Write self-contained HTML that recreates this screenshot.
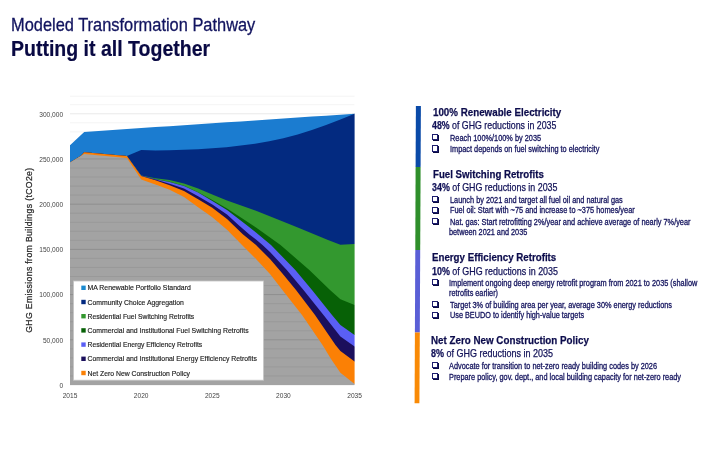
<!DOCTYPE html>
<html lang="en">
<head>
<meta charset="utf-8">
<title>Modeled Transformation Pathway</title>
<style>
html,body{margin:0;padding:0;background:#fff;}
body{width:720px;height:450px;position:relative;overflow:hidden;font-family:"Liberation Sans",sans-serif;color:#14145c;}
h1,h2,h3,p{margin:0;padding:0;position:absolute;white-space:nowrap;line-height:1;font-weight:normal;}
h1 span,h2 span,h3 span,p span{display:inline-block;transform-origin:0 50%;}
h1{left:11.0px;top:15.66px;font-size:18.6px;color:#12145f;-webkit-text-stroke:0.3px #12145f;}
h2{left:11.2px;top:38.05px;font-size:21.2px;font-weight:bold;color:#090943;-webkit-text-stroke:0.2px #090943;}
h3{font-size:11.8px;font-weight:bold;color:#0c0c4c;-webkit-text-stroke:0.25px #0c0c4c;}
ul,li{margin:0;padding:0;list-style:none;}
p.sub{font-size:10.3px;color:#121258;-webkit-text-stroke:0.25px #121258;}
p.li{font-size:8.9px;color:#14145e;-webkit-text-stroke:0.3px #14145e;}
i.bx{position:absolute;width:4.2px;height:4.2px;border:0.8px solid #1d1d6e;box-shadow:1px 1px 0 #0a0a42;background:#fff;}
svg.chart{position:absolute;left:0;top:90px;}
svg.chart text{font-family:"Liberation Sans",sans-serif;fill:#444;}
svg.chart .ax{font-size:6.6px;}
svg.chart .yt{font-size:8.7px;fill:#2a2a2a;stroke:#2a2a2a;stroke-width:0.25px;}
svg.chart .lg{font-size:7.3px;fill:#1c1c1c;stroke:#1c1c1c;stroke-width:0.15px;}
svg.bar{position:absolute;left:410px;top:100px;}
</style>
</head>
<body>
<h1><span style="transform:scaleX(0.8820)">Modeled Transformation Pathway</span></h1>
<h2><span style="transform:scaleX(0.9210)">Putting it all Together</span></h2>
<svg class="chart" width="380" height="320" viewBox="0 90 380 320">
<line x1="70.0" x2="354.6" y1="385.00" y2="385.00" stroke="#e6e6e6" stroke-width="0.9"/>
<line x1="70.0" x2="354.6" y1="375.96" y2="375.96" stroke="#f3f3f3" stroke-width="0.9"/>
<line x1="70.0" x2="354.6" y1="366.92" y2="366.92" stroke="#f3f3f3" stroke-width="0.9"/>
<line x1="70.0" x2="354.6" y1="357.88" y2="357.88" stroke="#f3f3f3" stroke-width="0.9"/>
<line x1="70.0" x2="354.6" y1="348.83" y2="348.83" stroke="#f3f3f3" stroke-width="0.9"/>
<line x1="70.0" x2="354.6" y1="339.79" y2="339.79" stroke="#e6e6e6" stroke-width="0.9"/>
<line x1="70.0" x2="354.6" y1="330.75" y2="330.75" stroke="#f3f3f3" stroke-width="0.9"/>
<line x1="70.0" x2="354.6" y1="321.71" y2="321.71" stroke="#f3f3f3" stroke-width="0.9"/>
<line x1="70.0" x2="354.6" y1="312.67" y2="312.67" stroke="#f3f3f3" stroke-width="0.9"/>
<line x1="70.0" x2="354.6" y1="303.62" y2="303.62" stroke="#f3f3f3" stroke-width="0.9"/>
<line x1="70.0" x2="354.6" y1="294.58" y2="294.58" stroke="#e6e6e6" stroke-width="0.9"/>
<line x1="70.0" x2="354.6" y1="285.54" y2="285.54" stroke="#f3f3f3" stroke-width="0.9"/>
<line x1="70.0" x2="354.6" y1="276.50" y2="276.50" stroke="#f3f3f3" stroke-width="0.9"/>
<line x1="70.0" x2="354.6" y1="267.46" y2="267.46" stroke="#f3f3f3" stroke-width="0.9"/>
<line x1="70.0" x2="354.6" y1="258.42" y2="258.42" stroke="#f3f3f3" stroke-width="0.9"/>
<line x1="70.0" x2="354.6" y1="249.38" y2="249.38" stroke="#e6e6e6" stroke-width="0.9"/>
<line x1="70.0" x2="354.6" y1="240.33" y2="240.33" stroke="#f3f3f3" stroke-width="0.9"/>
<line x1="70.0" x2="354.6" y1="231.29" y2="231.29" stroke="#f3f3f3" stroke-width="0.9"/>
<line x1="70.0" x2="354.6" y1="222.25" y2="222.25" stroke="#f3f3f3" stroke-width="0.9"/>
<line x1="70.0" x2="354.6" y1="213.21" y2="213.21" stroke="#f3f3f3" stroke-width="0.9"/>
<line x1="70.0" x2="354.6" y1="204.17" y2="204.17" stroke="#e6e6e6" stroke-width="0.9"/>
<line x1="70.0" x2="354.6" y1="195.12" y2="195.12" stroke="#f3f3f3" stroke-width="0.9"/>
<line x1="70.0" x2="354.6" y1="186.08" y2="186.08" stroke="#f3f3f3" stroke-width="0.9"/>
<line x1="70.0" x2="354.6" y1="177.04" y2="177.04" stroke="#f3f3f3" stroke-width="0.9"/>
<line x1="70.0" x2="354.6" y1="168.00" y2="168.00" stroke="#f3f3f3" stroke-width="0.9"/>
<line x1="70.0" x2="354.6" y1="158.96" y2="158.96" stroke="#e6e6e6" stroke-width="0.9"/>
<line x1="70.0" x2="354.6" y1="149.92" y2="149.92" stroke="#f3f3f3" stroke-width="0.9"/>
<line x1="70.0" x2="354.6" y1="140.88" y2="140.88" stroke="#f3f3f3" stroke-width="0.9"/>
<line x1="70.0" x2="354.6" y1="131.83" y2="131.83" stroke="#f3f3f3" stroke-width="0.9"/>
<line x1="70.0" x2="354.6" y1="122.79" y2="122.79" stroke="#f3f3f3" stroke-width="0.9"/>
<line x1="70.0" x2="354.6" y1="113.75" y2="113.75" stroke="#e6e6e6" stroke-width="0.9"/>
<line x1="70.0" x2="354.6" y1="104.71" y2="104.71" stroke="#f3f3f3" stroke-width="0.9"/>
<line x1="70.0" x2="354.6" y1="96.20" y2="96.20" stroke="#f3f3f3" stroke-width="0.9"/>
<path d="M67.0,385.0 L67.0,145.3 L70.0,145.3 L84.2,131.9 L98.5,130.9 L112.7,130.0 L126.9,129.0 L141.2,128.1 L155.4,127.1 L169.6,126.2 L183.8,125.2 L198.1,124.3 L212.3,123.3 L226.5,122.3 L240.8,121.4 L255.0,120.4 L269.2,119.5 L283.4,118.5 L297.7,117.6 L311.9,116.6 L326.1,115.7 L340.4,114.7 L354.6,113.8 L357.6,113.8 L357.6,385.0 Z" fill="#1b7cd0"/>
<path d="M67.0,385.0 L67.0,162.5 L70.0,162.5 L81.0,155.8 L84.2,152.2 L126.9,155.9 L141.2,150.1 L155.4,150.6 L169.6,150.2 L183.8,149.8 L198.1,149.2 L212.3,148.3 L226.5,147.2 L240.8,145.6 L255.0,143.8 L269.2,141.2 L283.4,138.3 L297.7,134.4 L311.9,130.0 L326.1,125.0 L340.4,119.4 L354.6,113.8 L357.6,113.8 L357.6,385.0 Z" fill="#032a80"/>
<path d="M67.0,385.0 L67.0,162.5 L70.0,162.5 L81.0,155.8 L84.2,152.2 L126.9,155.9 L141.2,175.4 L155.4,178.3 L169.6,180.0 L184.0,183.5 L198.1,188.5 L212.3,194.4 L227.0,200.5 L256.0,210.7 L286.0,222.7 L299.0,228.0 L328.0,240.0 L340.4,244.8 L354.6,244.0 L357.6,244.0 L357.6,385.0 Z" fill="#33982f"/>
<path d="M67.0,385.0 L67.0,162.5 L70.0,162.5 L81.0,155.8 L84.2,152.2 L126.9,155.9 L141.2,175.5 L155.4,179.0 L169.6,181.7 L184.0,185.8 L198.1,192.3 L212.3,200.0 L227.0,208.5 L242.0,218.3 L256.0,227.5 L267.2,235.5 L280.5,245.0 L309.3,270.0 L330.0,290.0 L340.4,299.2 L354.6,305.0 L357.6,305.0 L357.6,385.0 Z" fill="#076106"/>
<path d="M67.0,385.0 L67.0,162.5 L70.0,162.5 L81.0,155.8 L84.2,152.2 L126.9,155.9 L141.2,175.6 L155.4,179.2 L169.6,181.9 L184.0,186.0 L198.1,192.6 L212.3,201.0 L227.0,210.0 L246.5,225.0 L256.0,232.5 L271.0,245.0 L295.3,270.0 L312.0,290.0 L332.0,315.0 L340.4,325.0 L354.6,335.0 L357.6,335.0 L357.6,385.0 Z" fill="#5a5ff5"/>
<path d="M67.0,385.0 L67.0,162.5 L70.0,162.5 L81.0,155.8 L84.2,152.2 L126.9,155.9 L141.2,175.7 L155.4,179.6 L169.6,183.7 L184.0,188.5 L198.1,196.2 L212.3,204.4 L227.0,214.5 L238.5,225.0 L249.4,234.5 L256.0,239.6 L262.5,245.0 L270.0,252.0 L286.8,270.0 L303.5,290.0 L323.5,315.0 L340.4,336.5 L354.6,346.5 L357.6,346.5 L357.6,385.0 Z" fill="#1b0f5c"/>
<path d="M67.0,385.0 L67.0,162.5 L70.0,162.5 L81.0,155.8 L84.2,152.2 L126.9,155.9 L141.2,175.9 L155.4,180.2 L169.6,185.2 L184.0,191.0 L198.1,199.3 L212.3,207.8 L227.0,219.0 L242.8,234.2 L256.0,245.0 L270.0,259.0 L282.0,273.0 L296.0,290.0 L315.0,315.0 L335.5,345.0 L340.4,351.0 L354.6,361.5 L357.6,361.5 L357.6,385.0 Z" fill="#fb8005"/>
<path d="M67.0,385.0 L67.0,162.5 L70.0,162.5 L84.2,153.9 L126.9,158.1 L141.2,179.6 L155.4,184.5 L169.6,189.8 L184.0,197.0 L198.1,207.3 L212.3,217.3 L227.0,229.8 L242.0,245.0 L256.0,259.0 L270.0,274.0 L282.0,289.5 L302.0,315.0 L322.5,345.0 L331.0,359.0 L340.4,372.7 L354.6,384.0 L357.6,384.0 L357.6,385.0 Z" fill="#a3a3a3"/>
<rect x="354.6" y="100" width="4" height="286.0" fill="#fff"/>
<rect x="66.0" y="100" width="4" height="286.0" fill="#fff"/>
<clipPath id="gc"><path d="M70.0,385.0 L70.0,162.5 L84.2,153.9 L126.9,158.1 L141.2,179.6 L155.4,184.5 L169.6,189.8 L184.0,197.0 L198.1,207.3 L212.3,217.3 L227.0,229.8 L242.0,245.0 L256.0,259.0 L270.0,274.0 L282.0,289.5 L302.0,315.0 L322.5,345.0 L331.0,359.0 L340.4,372.7 L354.6,384.0 L354.6,385.0 Z"/></clipPath>
<g clip-path="url(#gc)">
<line x1="70.0" x2="354.6" y1="375.96" y2="375.96" stroke="#979797" stroke-width="0.8"/>
<line x1="70.0" x2="354.6" y1="366.92" y2="366.92" stroke="#979797" stroke-width="0.8"/>
<line x1="70.0" x2="354.6" y1="357.88" y2="357.88" stroke="#979797" stroke-width="0.8"/>
<line x1="70.0" x2="354.6" y1="348.83" y2="348.83" stroke="#979797" stroke-width="0.8"/>
<line x1="70.0" x2="354.6" y1="339.79" y2="339.79" stroke="#8a8a8a" stroke-width="0.8"/>
<line x1="70.0" x2="354.6" y1="330.75" y2="330.75" stroke="#979797" stroke-width="0.8"/>
<line x1="70.0" x2="354.6" y1="321.71" y2="321.71" stroke="#979797" stroke-width="0.8"/>
<line x1="70.0" x2="354.6" y1="312.67" y2="312.67" stroke="#979797" stroke-width="0.8"/>
<line x1="70.0" x2="354.6" y1="303.62" y2="303.62" stroke="#979797" stroke-width="0.8"/>
<line x1="70.0" x2="354.6" y1="294.58" y2="294.58" stroke="#8a8a8a" stroke-width="0.8"/>
<line x1="70.0" x2="354.6" y1="285.54" y2="285.54" stroke="#979797" stroke-width="0.8"/>
<line x1="70.0" x2="354.6" y1="276.50" y2="276.50" stroke="#979797" stroke-width="0.8"/>
<line x1="70.0" x2="354.6" y1="267.46" y2="267.46" stroke="#979797" stroke-width="0.8"/>
<line x1="70.0" x2="354.6" y1="258.42" y2="258.42" stroke="#979797" stroke-width="0.8"/>
<line x1="70.0" x2="354.6" y1="249.38" y2="249.38" stroke="#8a8a8a" stroke-width="0.8"/>
<line x1="70.0" x2="354.6" y1="240.33" y2="240.33" stroke="#979797" stroke-width="0.8"/>
<line x1="70.0" x2="354.6" y1="231.29" y2="231.29" stroke="#979797" stroke-width="0.8"/>
<line x1="70.0" x2="354.6" y1="222.25" y2="222.25" stroke="#979797" stroke-width="0.8"/>
<line x1="70.0" x2="354.6" y1="213.21" y2="213.21" stroke="#979797" stroke-width="0.8"/>
<line x1="70.0" x2="354.6" y1="204.17" y2="204.17" stroke="#8a8a8a" stroke-width="0.8"/>
<line x1="70.0" x2="354.6" y1="195.12" y2="195.12" stroke="#979797" stroke-width="0.8"/>
<line x1="70.0" x2="354.6" y1="186.08" y2="186.08" stroke="#979797" stroke-width="0.8"/>
<line x1="70.0" x2="354.6" y1="177.04" y2="177.04" stroke="#979797" stroke-width="0.8"/>
<line x1="70.0" x2="354.6" y1="168.00" y2="168.00" stroke="#979797" stroke-width="0.8"/>
<line x1="70.0" x2="354.6" y1="158.96" y2="158.96" stroke="#8a8a8a" stroke-width="0.8"/>
<line x1="70.0" x2="354.6" y1="149.92" y2="149.92" stroke="#979797" stroke-width="0.8"/>
<line x1="70.0" x2="354.6" y1="140.88" y2="140.88" stroke="#979797" stroke-width="0.8"/>
<line x1="70.0" x2="354.6" y1="131.83" y2="131.83" stroke="#979797" stroke-width="0.8"/>
<line x1="70.0" x2="354.6" y1="122.79" y2="122.79" stroke="#979797" stroke-width="0.8"/>
</g>
<text x="63.1" y="387.7" text-anchor="end" class="ax">0</text>
<text x="63.1" y="342.5" text-anchor="end" class="ax">50,000</text>
<text x="63.1" y="297.3" text-anchor="end" class="ax">100,000</text>
<text x="63.1" y="252.1" text-anchor="end" class="ax">150,000</text>
<text x="63.1" y="206.9" text-anchor="end" class="ax">200,000</text>
<text x="63.1" y="161.7" text-anchor="end" class="ax">250,000</text>
<text x="63.1" y="116.5" text-anchor="end" class="ax">300,000</text>
<text x="70.0" y="397.9" text-anchor="middle" class="ax">2015</text>
<text x="141.2" y="397.9" text-anchor="middle" class="ax">2020</text>
<text x="212.3" y="397.9" text-anchor="middle" class="ax">2025</text>
<text x="283.4" y="397.9" text-anchor="middle" class="ax">2030</text>
<text x="354.6" y="397.9" text-anchor="middle" class="ax">2035</text>
<text transform="translate(31.8,250.3) rotate(-90)" text-anchor="middle" textLength="165" lengthAdjust="spacing" class="yt">GHG Emissions from Buildings (tCO2e)</text>
<rect x="73.5" y="281.0" width="190.1" height="99.2" fill="#ffffff" stroke="#c4c4c4" stroke-width="0.8"/>
<rect x="81.3" y="285.6" width="4.4" height="4.4" fill="#1b8ad0"/>
<text x="87.5" y="290.3" class="lg" textLength="103.3" lengthAdjust="spacingAndGlyphs">MA Renewable Portfolio Standard</text>
<rect x="81.3" y="299.8" width="4.4" height="4.4" fill="#032a80"/>
<text x="87.5" y="304.5" class="lg" textLength="96.4" lengthAdjust="spacingAndGlyphs">Community Choice Aggregation</text>
<rect x="81.3" y="314.0" width="4.4" height="4.4" fill="#33982f"/>
<text x="87.5" y="318.7" class="lg" textLength="106.7" lengthAdjust="spacingAndGlyphs">Residential Fuel Switching Retrofits</text>
<rect x="81.3" y="328.2" width="4.4" height="4.4" fill="#076106"/>
<text x="87.5" y="332.9" class="lg" textLength="161.1" lengthAdjust="spacingAndGlyphs">Commercial and Institutional Fuel Switching Retrofits</text>
<rect x="81.3" y="342.4" width="4.4" height="4.4" fill="#5a5ff5"/>
<text x="87.5" y="347.1" class="lg" textLength="114.7" lengthAdjust="spacingAndGlyphs">Residential Energy Efficiency Retrofits</text>
<rect x="81.3" y="356.6" width="4.4" height="4.4" fill="#1b0f5c"/>
<text x="87.5" y="361.3" class="lg" textLength="169.4" lengthAdjust="spacingAndGlyphs">Commercial and Institutional Energy Efficiency Retrofits</text>
<rect x="81.3" y="370.8" width="4.4" height="4.4" fill="#fb8005"/>
<text x="87.5" y="375.5" class="lg" textLength="102.5" lengthAdjust="spacingAndGlyphs">Net Zero New Construction Policy</text>
</svg>
<svg class="bar" width="16" height="310" viewBox="410 100 16 310">
<polygon points="415.9,106 420.9,106 420.6,167 415.6,167" fill="#0a4aa8"/>
<polygon points="415.6,167 420.6,167 420.2,250 415.3,250" fill="#2f8f2b"/>
<polygon points="415.3,250 420.2,250 419.8,332.4 414.9,332.4" fill="#5a5fd6"/>
<polygon points="414.9,332.4 419.8,332.4 419.4,403.3 414.6,403.3" fill="#f98a06"/>
</svg>
<section>
<h3 style="left:432.8px;top:107.36px"><span style="transform:scaleX(0.8284)">100% Renewable Electricity</span></h3>
<p class="sub" style="left:432.4px;top:121.48px"><span style="transform:scaleX(0.8553)"><b>48%</b> of GHG reductions in 2035</span></p>
<ul>
<li><i class="bx" style="left:432.3px;top:134.10px"></i>
<p class="li" style="left:449.9px;top:133.67px"><span style="transform:scaleX(0.8278)">Reach 100%/100% by 2035</span></p>
</li>
<li><i class="bx" style="left:432.3px;top:145.40px"></i>
<p class="li" style="left:449.9px;top:144.97px"><span style="transform:scaleX(0.8271)">Impact depends on fuel switching to electricity</span></p>
</li>
</ul>
</section>
<section>
<h3 style="left:432.5px;top:169.31px"><span style="transform:scaleX(0.8206)">Fuel Switching Retrofits</span></h3>
<p class="sub" style="left:432.0px;top:183.38px"><span style="transform:scaleX(0.8632)"><b>34%</b> of GHG reductions in 2035</span></p>
<ul>
<li><i class="bx" style="left:432.3px;top:196.00px"></i>
<p class="li" style="left:450.0px;top:195.57px"><span style="transform:scaleX(0.8279)">Launch by 2021 and target all fuel oil and natural gas</span></p>
</li>
<li><i class="bx" style="left:432.3px;top:206.90px"></i>
<p class="li" style="left:450.0px;top:206.47px"><span style="transform:scaleX(0.8301)">Fuel oil: Start with ~75 and increase to ~375 homes/year</span></p>
</li>
<li><i class="bx" style="left:432.3px;top:218.20px"></i>
<p class="li" style="left:450.0px;top:217.77px"><span style="transform:scaleX(0.8291)">Nat. gas: Start retrofitting 2%/year and achieve average of nearly 7%/year</span></p>
<p class="li" style="left:449.2px;top:228.37px"><span style="transform:scaleX(0.8220)">between 2021 and 2035</span></p>
</li>
</ul>
</section>
<section>
<h3 style="left:432.0px;top:252.31px"><span style="transform:scaleX(0.8240)">Energy Efficiency Retrofits</span></h3>
<p class="sub" style="left:432.0px;top:266.58px"><span style="transform:scaleX(0.8666)"><b>10%</b> of GHG reductions in 2035</span></p>
<ul>
<li><i class="bx" style="left:432.3px;top:279.00px"></i>
<p class="li" style="left:449.2px;top:278.57px"><span style="transform:scaleX(0.8278)">Implement ongoing deep energy retrofit program from 2021 to 2035 (shallow</span></p>
<p class="li" style="left:448.8px;top:289.37px"><span style="transform:scaleX(0.8209)">retrofits earlier)</span></p>
</li>
<li><i class="bx" style="left:432.3px;top:301.20px"></i>
<p class="li" style="left:449.7px;top:300.77px"><span style="transform:scaleX(0.8288)">Target 3% of building area per year, average 30% energy reductions</span></p>
</li>
<li><i class="bx" style="left:432.3px;top:311.80px"></i>
<p class="li" style="left:449.7px;top:311.37px"><span style="transform:scaleX(0.8210)">Use BEUDO to identify high-value targets</span></p>
</li>
</ul>
</section>
<section>
<h3 style="left:431.3px;top:334.81px"><span style="transform:scaleX(0.8309)">Net Zero New Construction Policy</span></h3>
<p class="sub" style="left:431.3px;top:349.08px"><span style="transform:scaleX(0.8731)"><b>8%</b> of GHG reductions in 2035</span></p>
<ul>
<li><i class="bx" style="left:431.6px;top:362.20px"></i>
<p class="li" style="left:448.7px;top:361.77px"><span style="transform:scaleX(0.8285)">Advocate for transition to net-zero ready building codes by 2026</span></p>
</li>
<li><i class="bx" style="left:431.6px;top:373.20px"></i>
<p class="li" style="left:449.2px;top:372.77px"><span style="transform:scaleX(0.8276)">Prepare policy, gov. dept., and local building capacity for net-zero ready</span></p>
</li>
</ul>
</section>
</body>
</html>
